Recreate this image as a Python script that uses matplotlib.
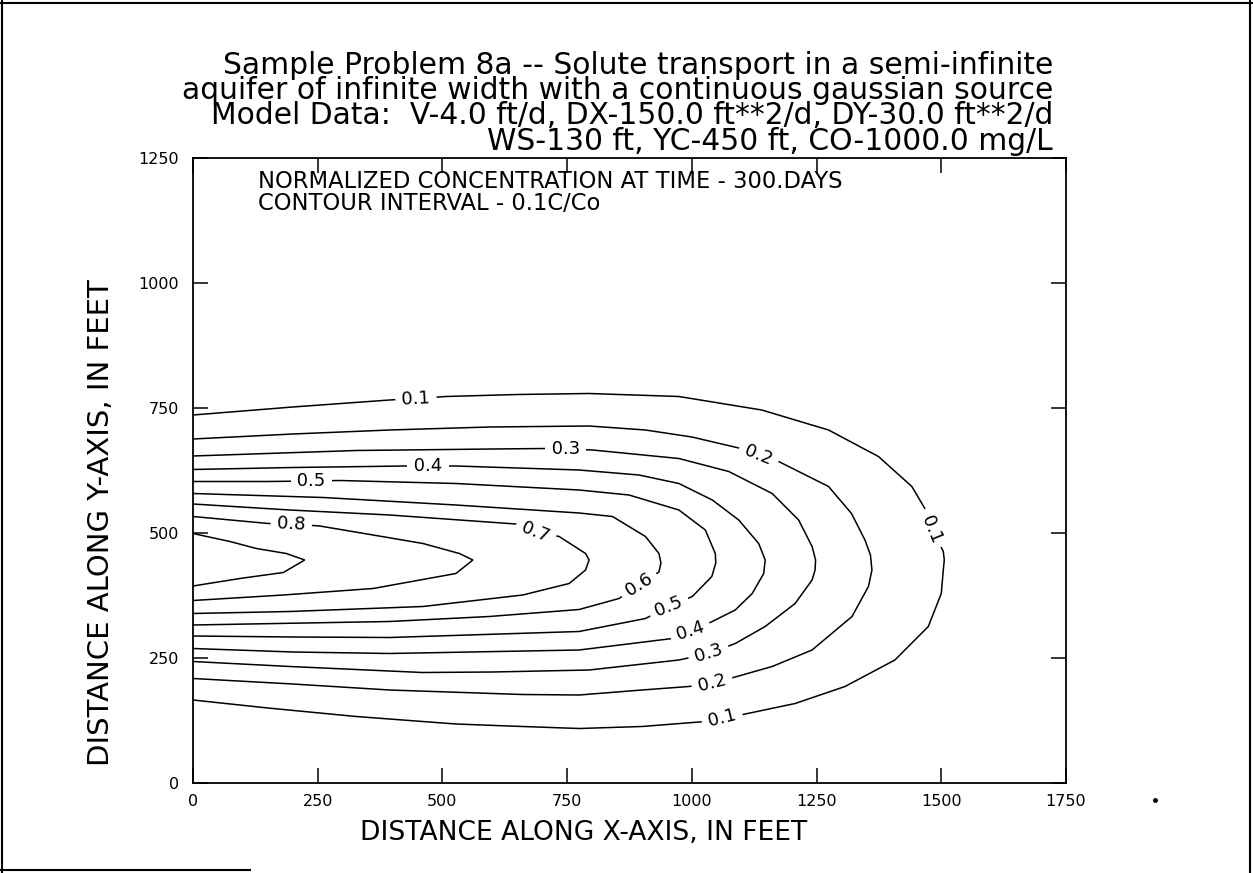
import matplotlib
matplotlib.use("Agg")
import matplotlib.pyplot as plt
from matplotlib.lines import Line2D

# ---------------- data (feet) ----------------
levels = [0.1, 0.2, 0.3, 0.4, 0.5, 0.6, 0.7, 0.8, 0.9]

c01_x = [0, 200, 394, 447, 507, 650, 794, 974, 1140, 1274, 1374, 1441, 1467, 1481, 1504, 1506, 1504, 1500, 1474, 1407, 1307, 1207, 1107, 1061, 1027, 900, 774, 660, 527, 327, 150, 0]
c01_y = [736, 752, 766, 769, 773, 777, 779, 773, 746, 706, 653, 593, 549, 509, 463, 446, 426, 379, 313, 246, 193, 159, 138, 129, 123, 113, 109, 113, 118, 133, 150, 166]

c02_x = [0, 200, 394, 594, 794, 907, 1000, 1094, 1134, 1174, 1274, 1320, 1347, 1358, 1361, 1354, 1321, 1241, 1161, 1101, 1041, 994, 900, 774, 660, 394, 200, 0]
c02_y = [688, 698, 706, 712, 714, 706, 692, 670, 656, 643, 593, 539, 486, 456, 426, 393, 333, 266, 233, 216, 199, 193, 186, 176, 177, 186, 198, 209]

c03_x = [0, 327, 600, 707, 747, 801, 974, 1074, 1161, 1214, 1241, 1248, 1247, 1241, 1207, 1147, 1087, 1034, 974, 794, 600, 460, 194, 0]
c03_y = [654, 665, 668, 669, 668, 666, 649, 623, 579, 526, 473, 446, 426, 406, 359, 313, 279, 259, 246, 226, 222, 221, 233, 243]

c04_x = [0, 200, 427, 471, 527, 774, 894, 974, 1041, 1094, 1134, 1147, 1144, 1121, 1087, 1041, 997, 961, 774, 394, 200, 0]
c04_y = [627, 631, 634, 634, 634, 626, 616, 599, 566, 526, 479, 446, 419, 379, 346, 323, 303, 289, 266, 259, 262, 269]

c05_x = [0, 148, 237, 294, 527, 774, 874, 974, 1027, 1047, 1048, 1040, 1001, 954, 907, 774, 394, 200, 0]
c05_y = [603, 603, 604, 605, 599, 586, 576, 546, 506, 459, 440, 413, 373, 353, 329, 303, 291, 292, 294]

c06_x = [0, 261, 527, 774, 841, 907, 934, 938, 934, 894, 854, 774, 594, 394, 0]
c06_y = [579, 571, 556, 540, 533, 493, 459, 440, 422, 396, 369, 347, 333, 323, 316]

c07_x = [0, 194, 394, 647, 687, 734, 787, 794, 787, 754, 661, 461, 194, 0]
c07_y = [558, 546, 536, 518, 503, 493, 459, 446, 426, 399, 376, 353, 343, 339]

c08_x = [0, 151, 197, 254, 361, 461, 534, 561, 527, 361, 181, 0]
c08_y = [533, 519, 518, 514, 496, 479, 459, 446, 419, 389, 376, 365]

c09_x = [0, 74, 127, 187, 224, 181, 94, 0]
c09_y = [499, 483, 469, 459, 446, 421, 409, 394]

contours_x = [c01_x, c02_x, c03_x, c04_x, c05_x, c06_x, c07_x, c08_x, c09_x]
contours_y = [c01_y, c02_y, c03_y, c04_y, c05_y, c06_y, c07_y, c08_y, c09_y]

label_text = ["0.1", "0.3", "0.4", "0.5", "0.8", "0.7", "0.2", "0.1", "0.6", "0.5", "0.4", "0.3", "0.2", "0.1"]
label_x = [447, 747, 471, 237, 197, 687, 1134, 1481, 894, 954, 997, 1034, 1041, 1061]
label_y = [769, 668, 634, 604, 518, 503, 656, 509, 396, 353, 303, 259, 199, 129]
label_rot = [3, 0, 0, 0, -3, -22, -22, -68, 32, 22, 18, 17, 14, 14]

x_ticks = [0, 250, 500, 750, 1000, 1250, 1500, 1750]
y_ticks = [0, 250, 500, 750, 1000, 1250]

title_lines = [
    "Sample Problem 8a -- Solute transport in a semi-infinite",
    "aquifer of infinite width with a continuous gaussian source",
    "Model Data:  V-4.0 ft/d, DX-150.0 ft**2/d, DY-30.0 ft**2/d",
    "WS-130 ft, YC-450 ft, CO-1000.0 mg/L",
]
info_lines = [
    "NORMALIZED CONCENTRATION AT TIME - 300.DAYS",
    "CONTOUR INTERVAL - 0.1C/Co",
]
x_label = "DISTANCE ALONG X-AXIS, IN FEET"
y_label = "DISTANCE ALONG Y-AXIS, IN FEET"

# ---------------- figure ----------------
W, H = 1253, 873
plt.rcParams["font.family"] = ["DejaVu Sans"]
fig = plt.figure(figsize=(W / 100, H / 100), dpi=100)
fig.patch.set_facecolor("white")
renderer = fig.canvas.get_renderer()


def fx(px):
    return px / W


def fy(py):
    return 1 - py / H


def extent(s, size, ls=1.2):
    t = fig.text(0, 0, s, fontsize=size, linespacing=ls)
    bb = t.get_window_extent(renderer=renderer)
    t.remove()
    return bb.width, bb.height


def block(lines, size, step_px, x, y_last_baseline, ha):
    """Multi-line text whose lines are step_px apart; y is the last line's baseline."""
    s = "\n".join(lines)
    n = len(lines)
    hs = extent(lines[0], size)[1]
    h1 = extent(s, size, 1.0)[1]
    h2 = extent(s, size, 2.0)[1]
    slope = (h2 - h1) / (n - 1)
    step1 = (h1 - hs) / (n - 1)
    ls = 1.0 + (step_px - step1) / slope
    return fig.text(fx(x), fy(y_last_baseline), s, fontsize=size, linespacing=ls,
                    ha=ha, va="baseline", multialignment=ha)


ax = fig.add_axes([fx(193), fy(783), (1066 - 193) / W, (783 - 158) / H])
ax.set_xlim(0, 1750)
ax.set_ylim(0, 1250)
for s in ax.spines.values():
    s.set_linewidth(1.3)

for xs, ys in zip(contours_x, contours_y):
    ax.plot(xs, ys, color="black", lw=1.1, solid_joinstyle="miter")

for t, x, y, r in zip(label_text, label_x, label_y, label_rot):
    ax.text(x, y, " " + t + " ", rotation=r, rotation_mode="anchor",
            ha="center", va="center", fontsize=13, zorder=5,
            bbox=dict(facecolor="white", edgecolor="none", pad=0.5))

ax.set_xticks(x_ticks)
ax.set_yticks(y_ticks)
ax.set_xticklabels([str(v) for v in x_ticks])
ax.set_yticklabels([str(v) for v in y_ticks])
ax.tick_params(direction="in", top=True, right=True, length=11, width=1.1,
               labelsize=11.5)
ax.tick_params(axis="x", pad=8)
ax.tick_params(axis="y", pad=10)

# title block (right aligned, 4 lines, last baseline just above the box)
fs_title = 18 * 830 / extent(title_lines[0], 18)[0]
block(title_lines, fs_title, 25.5, 1053, 150, "right")

# info text inside the plot
w_a = extent("NORMALIZED CONCENTRATION AT", 13)[0]
w_b = extent(info_lines[1], 13)[0]
fs_info = 13 * 0.5 * (362 / w_a + 362 / w_b)
block(info_lines, fs_info, 22, 258, 210, "left")

# axis labels
yl = fig.text(fx(101), fy(523), y_label, rotation=90, ha="center", va="center", fontsize=16)
bb = yl.get_window_extent(renderer=renderer)
yl.set_fontsize(16 * 487 / bb.height)
fs_x = 16 * 448 / extent(x_label, 16)[0]
fig.text(fx(584), fy(833), x_label, ha="center", va="center", fontsize=fs_x)

# page frame and stray dot
fig.add_artist(Line2D([fx(0), fx(1253)], [fy(3), fy(3)], color="black", lw=1.5))
fig.add_artist(Line2D([fx(2), fx(2)], [fy(0), fy(873)], color="black", lw=1.5))
fig.add_artist(Line2D([fx(1250), fx(1250)], [fy(0), fy(873)], color="black", lw=1.5))
fig.add_artist(Line2D([fx(0), fx(250)], [fy(870), fy(870)], color="black", lw=1.5))
fig.add_artist(Line2D([fx(1155)], [fy(800)], marker="o", markersize=2.5, color="black"))

fig.savefig("out.png", dpi=100, facecolor="white")
